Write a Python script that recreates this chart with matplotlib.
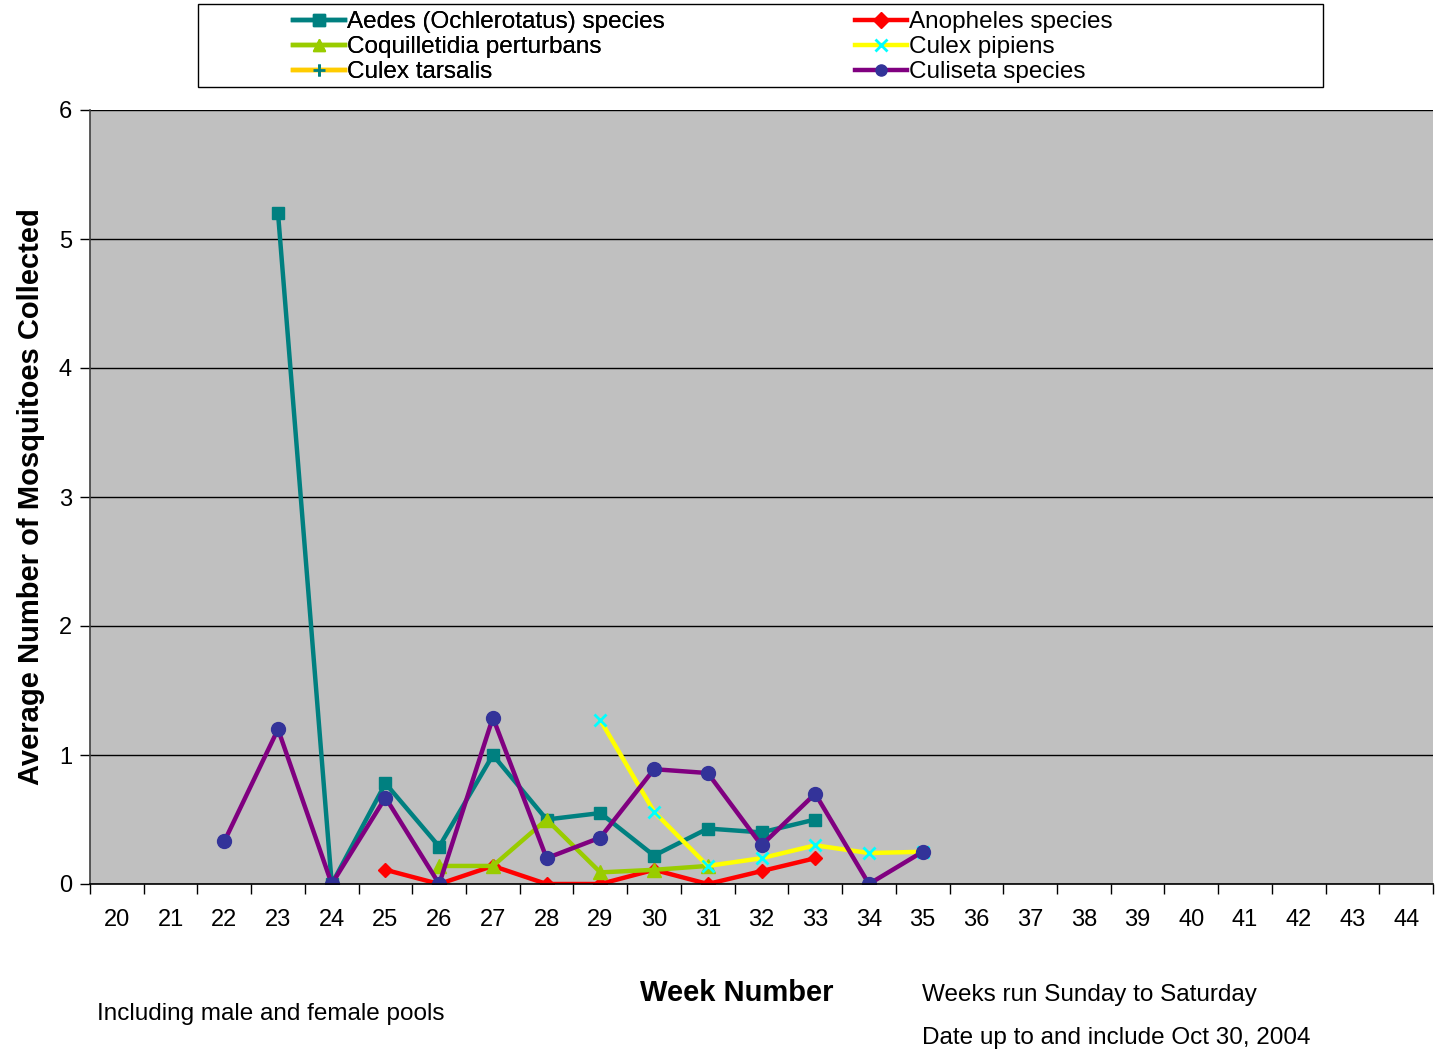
import numpy as np
import matplotlib
matplotlib.use("Agg")
import matplotlib.pyplot as plt
from matplotlib.ticker import FixedLocator, NullFormatter
from matplotlib.patches import Rectangle

plt.rcParams['font.family'] = ['Liberation Sans', 'DejaVu Sans']

weeks = list(range(20, 45))
nan = np.nan

def series(d):
    return [d.get(w, nan) for w in weeks]

aedes = series({23: 5.2, 24: 0, 25: 0.78, 26: 0.29, 27: 1.0, 28: 0.5, 29: 0.55,
                30: 0.22, 31: 0.43, 32: 0.40, 33: 0.5})
anopheles = series({25: 0.11, 26: 0, 27: 0.14, 28: 0, 29: 0, 30: 0.11, 31: 0,
                    32: 0.10, 33: 0.20})
coquilletidia = series({26: 0.14, 27: 0.14, 28: 0.5, 29: 0.09, 30: 0.11, 31: 0.14})
culex_pipiens = series({29: 1.27, 30: 0.56, 31: 0.14, 32: 0.20, 33: 0.30, 34: 0.24, 35: 0.25})
culex_tarsalis = series({})
culiseta = series({22: 0.33, 23: 1.2, 24: 0, 25: 0.67, 26: 0, 27: 1.29, 28: 0.2,
                   29: 0.36, 30: 0.89, 31: 0.86, 32: 0.30, 33: 0.70, 34: 0, 35: 0.25})

labels = ["Aedes (Ochlerotatus) species", "Anopheles species", "Coquilletidia perturbans",
          "Culex pipiens", "Culex tarsalis", "Culiseta species"]

fig = plt.figure(figsize=(14.35, 10.55), dpi=100)
ax = fig.add_axes([90/1435, 1 - 884/1055, (1433-90)/1435, (884-110)/1055])
ax.set_facecolor('#C0C0C0')

x = np.arange(len(weeks))
lw = 3.2
h_aedes, = ax.plot(x, aedes, color='#008080', lw=lw, marker='s', ms=9, mfc='#008080', mec='#008080', label=labels[0])
h_anoph, = ax.plot(x, anopheles, color='#FF0000', lw=lw, marker='D', ms=7, mfc='#FF0000', mec='#FF0000', label=labels[1])
h_coq, = ax.plot(x, coquilletidia, color='#99CC00', lw=lw, marker='^', ms=10, mfc='#99CC00', mec='#99CC00', label=labels[2])
h_pip, = ax.plot(x, culex_pipiens, color='#FFFF00', lw=lw, marker='x', ms=9, mew=2, mfc='#00FFFF', mec='#00FFFF', label=labels[3])
h_tar, = ax.plot(x, culex_tarsalis, color='#FFCC00', lw=lw, marker='+', ms=10, mew=2, mec='#008080', label=labels[4])
h_cul, = ax.plot(x, culiseta, color='#800080', lw=lw, marker='o', ms=10, mfc='#333399', mec='#333399', label=labels[5])

ax.set_xlim(-0.5, len(weeks) - 0.5)
ax.set_ylim(0, 6)
ax.set_yticks(range(0, 7))
ax.yaxis.grid(True, color='black', lw=1)
ax.set_axisbelow(True)
ax.set_xticks(x)
ax.set_xticklabels([str(w) for w in weeks], fontsize=17)
ax.tick_params(axis='x', which='major', length=0, pad=18)
ax.xaxis.set_minor_locator(FixedLocator(np.arange(-0.5, len(weeks), 1.0)))
ax.xaxis.set_minor_formatter(NullFormatter())
ax.tick_params(axis='x', which='minor', length=7, width=1, color='black')
ax.tick_params(axis='y', length=7, width=1, labelsize=17, pad=6)
for s in ['top', 'right']:
    ax.spines[s].set_visible(False)
ax.spines['left'].set_color('#404040')
ax.spines['bottom'].set_color('black')
ax.spines['left'].set_linewidth(1.2)
ax.spines['bottom'].set_linewidth(1.2)

ax.set_ylabel("Average Number of Mosquitoes Collected", fontsize=21, fontweight='bold', labelpad=10)

fig.text(737/1435, 1 - 993/1055, "Week Number", fontsize=21, fontweight='bold', ha='center', va='center')
fig.text(97/1435, 1 - 1014/1055, "Including male and female pools", fontsize=17.5, ha='left', va='center')
fig.text(922/1435, 1 - 995/1055, "Weeks run Sunday to Saturday", fontsize=17.5, ha='left', va='center')
fig.text(922/1435, 1 - 1038/1055, "Date up to and include Oct 30, 2004", fontsize=17.5, ha='left', va='center')

# legend frame
fig.patches.append(Rectangle((198/1435, 1 - 87/1055), (1323-198)/1435, 83/1055,
                             transform=fig.transFigure, facecolor='white',
                             edgecolor='black', lw=1, zorder=0))

def make_leg(hs, labs, x0):
    lg = fig.legend(handles=hs, labels=labs, loc='upper left',
                    bbox_to_anchor=(x0/1435, 1 - 11/1055), fontsize=17.5,
                    frameon=False, borderpad=0, labelspacing=0.13,
                    handlelength=2.15, handletextpad=0.08, borderaxespad=0)
    for h in lg.legend_handles:
        h.set_markersize(8)
    return lg

l1 = make_leg([h_aedes, h_coq, h_tar], [labels[0], labels[2], labels[4]], 293)
l2 = make_leg([h_anoph, h_pip, h_cul], [labels[1], labels[3], labels[5]], 855)
fig.add_artist(l1)

fig.savefig("out.png", dpi=100, facecolor='white')
